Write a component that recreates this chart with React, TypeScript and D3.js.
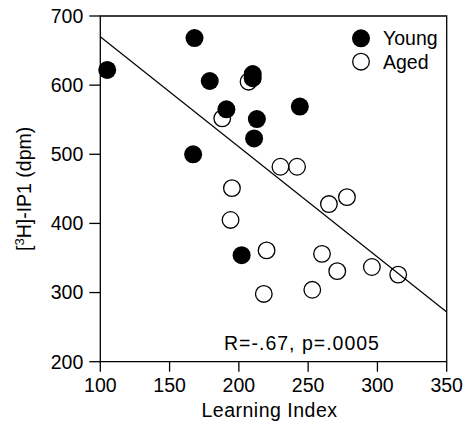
import React from 'react';
import * as d3 from 'd3';

// learning index vs [3H]-IP1 (dpm)
const youngX = [105, 168, 179, 210, 210, 191, 213, 211, 167, 244, 202];
const youngY = [622, 668, 606, 616, 610, 565, 551, 523, 500, 569, 354];

const agedX = [207, 188, 230, 242, 195, 194, 220, 218, 265, 278, 260, 271, 253, 296, 315];
const agedY = [605, 552, 482, 482, 451, 405, 361, 298, 428, 438, 356, 331, 304, 337, 326];

// regression line end points
const fitX = [100, 350];
const fitY = [670, 272];

const xTicks = [100, 150, 200, 250, 300, 350];
const yTicks = [200, 300, 400, 500, 600, 700];

const legendLabels = ['Young', 'Aged'];
const statText = 'R=-.67, p=.0005';

const FONT = '"Liberation Sans", Arial, Helvetica, sans-serif';

export default function App() {
  const width = 463;
  const height = 426;
  const left = 100.3, right = 446.7, top = 16, bottom = 361.7;

  const x = d3.scaleLinear().domain([100, 350]).range([left, right]);
  const y = d3.scaleLinear().domain([200, 700]).range([bottom, top]);

  const young = youngX.map((v, i) => ({ x: v, y: youngY[i] }));
  const aged = agedX.map((v, i) => ({ x: v, y: agedY[i] }));
  const fit = fitX.map((v, i) => ({ x: v, y: fitY[i] }));

  const line = d3
    .line<{ x: number; y: number }>()
    .x(d => x(d.x))
    .y(d => y(d.y));

  const fs = 19.5;
  const sw = 1.3;

  return (
    <svg
      width={width}
      height={height}
      style={{ position: 'absolute', left: 0, top: 0 }}
      fontFamily={FONT}
    >
      <rect width={width} height={height} fill="#fff" />

      {/* frame */}
      <path
        d={`M${left},${top}H${right}V${bottom}H${left}Z`}
        fill="none"
        stroke="#000"
        strokeWidth={sw}
      />

      {/* y ticks */}
      <g>
        {yTicks.map(t => (
          <g key={t} transform={`translate(0,${y(t)})`}>
            <line x1={left - 11} x2={left} stroke="#000" strokeWidth={sw} />
            <text x={left - 17} dy="0.35em" textAnchor="end" fontSize={fs}>
              {t}
            </text>
          </g>
        ))}
      </g>

      {/* x ticks */}
      <g>
        {xTicks.map(t => (
          <g key={t} transform={`translate(${x(t)},0)`}>
            <line y1={bottom} y2={bottom + 10} stroke="#000" strokeWidth={sw} />
            <text y={391.5} textAnchor="middle" fontSize={fs}>
              {t}
            </text>
          </g>
        ))}
      </g>

      <text x={(left + right) / 2 - 4} y={416.5} textAnchor="middle" fontSize={fs} letterSpacing="0.5">
        Learning Index
      </text>

      <text
        transform={`translate(31,${(top + bottom) / 2}) rotate(-90)`}
        textAnchor="middle"
        fontSize={fs}
      >
        [<tspan dy="-7" fontSize={13}>3</tspan>
        <tspan dy="7">H]-IP1 (dpm)</tspan>
      </text>

      {/* regression */}
      <path d={line(fit) || ''} fill="none" stroke="#000" strokeWidth={1.2} />

      {/* aged */}
      {aged.map((d, i) => (
        <circle
          key={'a' + i}
          cx={x(d.x)}
          cy={y(d.y)}
          r={8.3}
          fill="none"
          stroke="#000"
          strokeWidth={sw}
        />
      ))}

      {/* young */}
      {young.map((d, i) => (
        <circle key={'y' + i} cx={x(d.x)} cy={y(d.y)} r={9} fill="#000" />
      ))}

      {/* legend */}
      <circle cx={361} cy={38.3} r={9} fill="#000" />
      <circle cx={361} cy={61.7} r={8.3} fill="none" stroke="#000" strokeWidth={sw} />
      <text x={383} y={38.3} dy="0.35em" fontSize={fs}>{legendLabels[0]}</text>
      <text x={383} y={61.7} dy="0.35em" fontSize={fs}>{legendLabels[1]}</text>

      <text x={224} y={350} fontSize={fs} letterSpacing="1">
        {statText}
      </text>
    </svg>
  );
}
